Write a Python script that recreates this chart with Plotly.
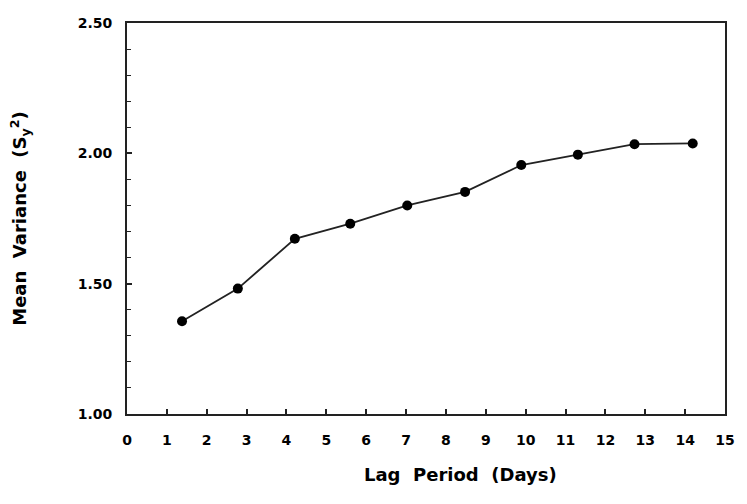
import plotly.graph_objects as go

lag_days = [1.38, 2.78, 4.21, 5.60, 7.03, 8.48, 9.89, 11.31, 12.73, 14.19]
mean_variance = [1.356, 1.481, 1.672, 1.730, 1.800, 1.852, 1.955, 1.995, 2.035, 2.038]
x_ticks = list(range(0, 16))
y_ticks = [1.0, 1.5, 2.0, 2.5]
y_tick_labels = ["1.00", "1.50", "2.00", "2.50"]
x_title = "Lag  Period  (Days)"
y_title = "Mean  Variance  (S<sub>y</sub><sup>2</sup>)"

font_family = "DejaVu Sans, Arial, sans-serif"

fig = go.Figure()
fig.add_trace(go.Scatter(
    x=lag_days, y=mean_variance, mode="lines+markers",
    line=dict(color="#222222", width=1.8),
    marker=dict(color="black", size=10),
    showlegend=False,
))

fig.update_layout(
    width=747, height=504,
    margin=dict(l=127, r=13, t=23, b=90),
    paper_bgcolor="white", plot_bgcolor="white",
    font=dict(family=font_family, color="black"),
)
fig.add_annotation(
    text=x_title, xref="paper", yref="paper", x=0.557, y=-0.155,
    xanchor="center", yanchor="middle", showarrow=False,
    font=dict(size=18, weight="bold"),
)
fig.update_xaxes(
    range=[0, 15], tickmode="array", tickvals=x_ticks,
    ticktext=[str(v) for v in x_ticks],
    ticks="inside", ticklen=5, tickwidth=1.5, tickcolor="#222",
    showline=True, linecolor="#222", linewidth=2, mirror=True,
    showgrid=False, zeroline=False,
    tickfont=dict(size=14, weight="bold"),
    ticklabelstandoff=12,
)
fig.update_yaxes(
    range=[1.0, 2.5], tickmode="array", tickvals=y_ticks, ticktext=y_tick_labels,
    ticks="inside", ticklen=5, tickwidth=1.5, tickcolor="#222",
    minor=dict(dtick=0.1, ticks="inside", ticklen=4, tickwidth=1.2, tickcolor="#222"),
    showline=True, linecolor="#222", linewidth=2, mirror=True,
    showgrid=False, zeroline=False,
    tickfont=dict(size=14, weight="bold"),
    ticklabelstandoff=10,
    title=dict(text=y_title, font=dict(size=18, weight="bold"), standoff=46),
)

fig.write_html("out.html")
